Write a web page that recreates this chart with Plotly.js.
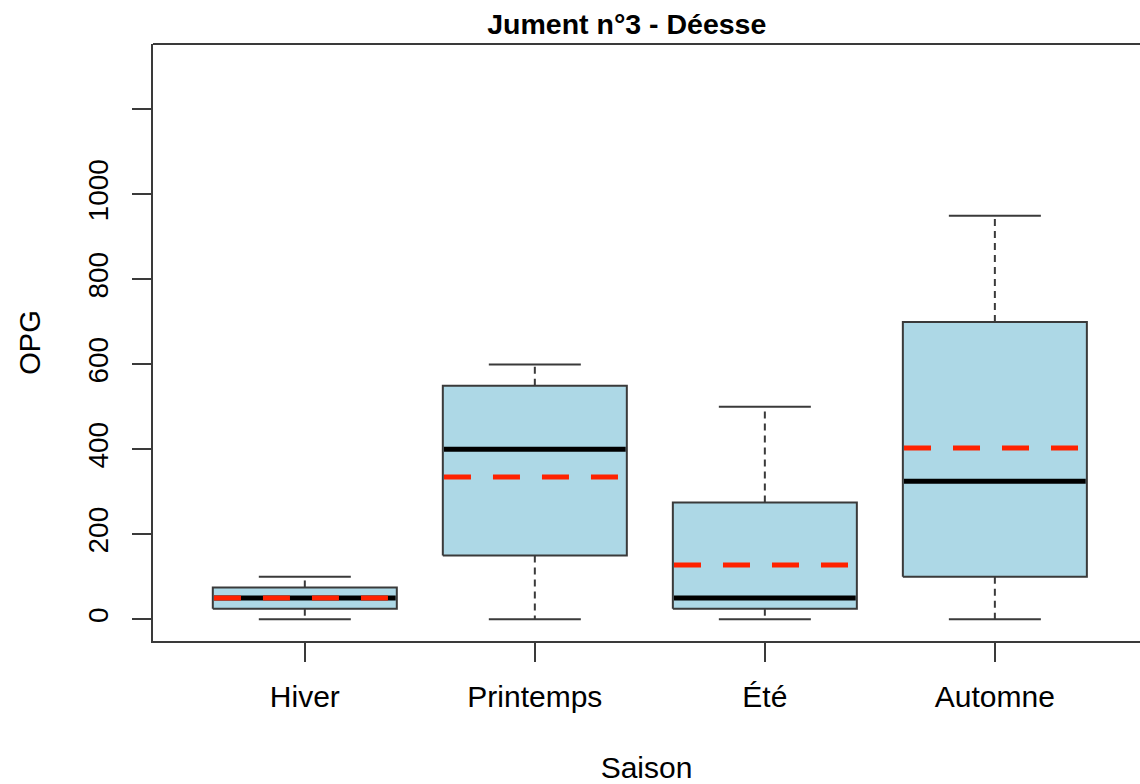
<!DOCTYPE html>
<html>
<head>
<meta charset="utf-8">
<script src="https://cdn.plot.ly/plotly-3.0.1.min.js"></script>
<style>html,body{margin:0;padding:0;background:#fff;}#chart{width:1140px;height:784px;}</style>
</head>
<body>
<div id="chart"></div>
<script>
const categories = ['Hiver', 'Printemps', 'Été', 'Automne'];
const lowerWhisker = [0, 0, 0, 0];
const q1 = [25, 150, 25, 100];
const median = [50, 400, 50, 325];
const q3 = [75, 550, 275, 700];
const upperWhisker = [100, 600, 500, 950];
const means = [50, 335, 128, 403];
const yTickVals = [0, 200, 400, 600, 800, 1000, 1200];
const yTickText = ['0', '200', '400', '600', '800', '1000', ''];

const boxHalf = 0.4;
const stapleHalf = 0.2;
const edge = '#3a3a3a';
const FONT = 'Liberation Sans, Arial, Helvetica, sans-serif';

const traces = [];
categories.forEach((c, i) => {
  const p = i + 1;
  traces.push({
    type: 'scatter', mode: 'lines',
    x: [p - boxHalf, p + boxHalf, p + boxHalf, p - boxHalf, p - boxHalf],
    y: [q1[i], q1[i], q3[i], q3[i], q1[i]],
    fill: 'toself', fillcolor: '#ADD8E6',
    line: {color: edge, width: 2}, hoverinfo: 'skip'
  });
});
// whiskers (dashed)
const wx = [], wy = [];
categories.forEach((c, i) => {
  const p = i + 1;
  wx.push(p, p, null, p, p, null);
  wy.push(q3[i], upperWhisker[i], null, q1[i], lowerWhisker[i], null);
});
traces.push({type: 'scatter', mode: 'lines', x: wx, y: wy, connectgaps: false,
  line: {color: edge, width: 2, dash: '7px,5px'}, hoverinfo: 'skip'});
// staples
const sx = [], sy = [];
categories.forEach((c, i) => {
  const p = i + 1;
  sx.push(p - stapleHalf, p + stapleHalf, null, p - stapleHalf, p + stapleHalf, null);
  sy.push(upperWhisker[i], upperWhisker[i], null, lowerWhisker[i], lowerWhisker[i], null);
});
traces.push({type: 'scatter', mode: 'lines', x: sx, y: sy, connectgaps: false,
  line: {color: edge, width: 2}, hoverinfo: 'skip'});
// medians
const mx = [], my = [];
categories.forEach((c, i) => {
  const p = i + 1;
  mx.push(p - boxHalf + 0.005, p + boxHalf - 0.005, null);
  my.push(median[i], median[i], null);
});
traces.push({type: 'scatter', mode: 'lines', x: mx, y: my, connectgaps: false,
  line: {color: '#000000', width: 5}, hoverinfo: 'skip'});
// means (red dashed)
const ax = [], ay = [];
categories.forEach((c, i) => {
  const p = i + 1;
  ax.push(p - boxHalf + 0.005, p + boxHalf - 0.005, null);
  ay.push(means[i], means[i], null);
});
traces.push({type: 'scatter', mode: 'lines', x: ax, y: ay, connectgaps: false,
  line: {color: '#ff2200', width: 5, dash: '27px,22px'}, hoverinfo: 'skip'});

const layout = {
  width: 1140, height: 784,
  margin: {l: 153, r: 0, t: 44, b: 143},
  paper_bgcolor: '#ffffff', plot_bgcolor: '#ffffff',
  showlegend: false, hovermode: false,
  font: {family: FONT, size: 28, color: '#000'},
  title: {text: '<b>Jument n°3 - Déesse</b>', font: {family: FONT, size: 28.5, color: '#000'},
    x: 0.48, xref: 'paper', xanchor: 'center', y: 0.969, yref: 'container', yanchor: 'middle'},
  xaxis: {
    range: [0.34, 4.631], tickmode: 'array', tickvals: [1, 2, 3, 4], ticktext: categories,
    showgrid: false, zeroline: false, showline: true, linecolor: edge, linewidth: 2,
    ticks: 'outside', ticklen: 19, tickwidth: 2, tickcolor: edge, ticklabelstandoff: 9,
    tickfont: {family: FONT, size: 30, color: '#000'},
    title: {text: 'Saison', font: {family: FONT, size: 30, color: '#000'}, standoff: 46}
  },
  yaxis: {
    range: [-51, 1354], tickmode: 'array', tickvals: yTickVals, ticktext: yTickText,
    showgrid: false, zeroline: false, showline: true, linecolor: edge, linewidth: 2,
    ticks: 'outside', ticklen: 19, tickwidth: 2, tickcolor: edge, tickangle: -90,
    ticklabelstandoff: 13,
    tickfont: {family: FONT, size: 28, color: '#000'},
    title: {text: 'OPG', font: {family: FONT, size: 29, color: '#000'}, standoff: 34}
  },
  shapes: [
    {type: 'line', xref: 'paper', yref: 'paper', x0: 0, x1: 1, y0: 1, y1: 1,
     line: {color: edge, width: 2}}
  ]
};

Plotly.newPlot('chart', traces, layout, {displayModeBar: false, staticPlot: true});
</script>
</body>
</html>
